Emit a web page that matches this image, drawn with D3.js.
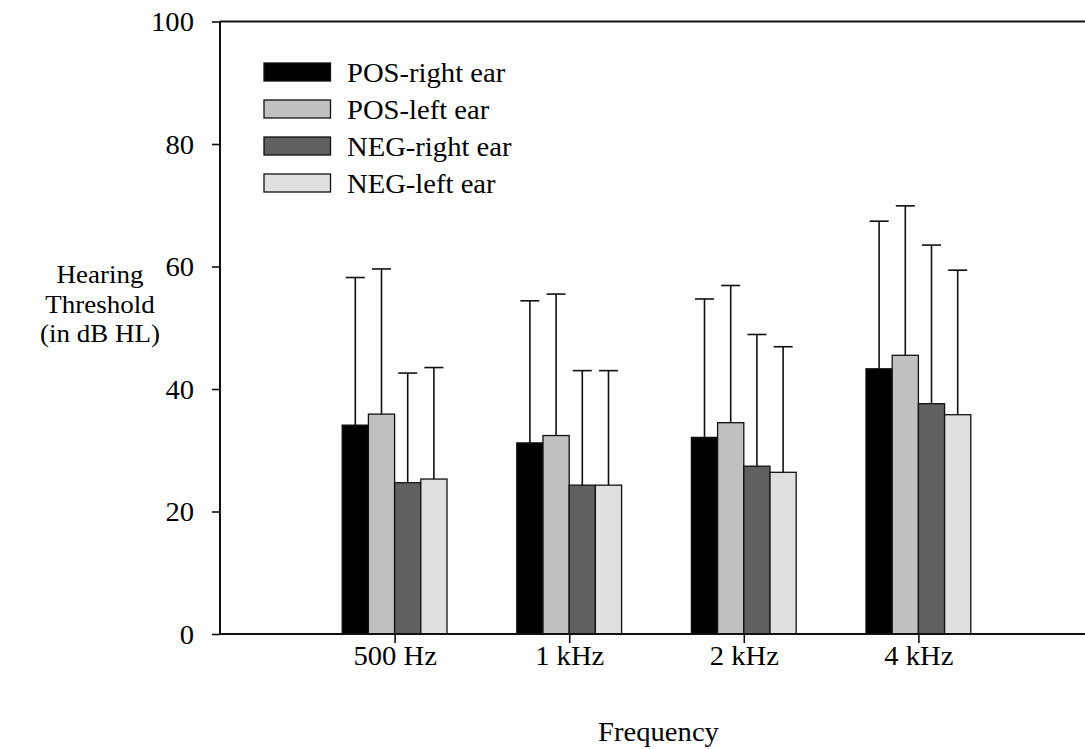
<!DOCTYPE html>
<html>
<head>
<meta charset="utf-8">
<script src="https://cdn.jsdelivr.net/npm/d3@7"></script>
<style>
  html, body { margin: 0; padding: 0; background: #fff; }
  svg { display: block; font-family: "Liberation Serif", "Times New Roman", serif; }
</style>
</head>
<body>
<svg id="chart" width="1085" height="749"></svg>
<script>
// Frequencies tested
const categories = ["500 Hz", "1 kHz", "2 kHz", "4 kHz"];
const seriesNames = ["POS-right ear", "POS-left ear", "NEG-right ear", "NEG-left ear"];
const seriesColors = ["#000000", "#c0c0c0", "#606060", "#e0e0e0"];

// Mean hearing threshold (dB HL) per group and ear
const posRightMean = [34.1, 31.2, 32.1, 43.3];
const posLeftMean  = [35.9, 32.4, 34.5, 45.5];
const negRightMean = [24.7, 24.3, 27.4, 37.6];
const negLeftMean  = [25.3, 24.3, 26.4, 35.8];

// Standard deviations (upper error bars)
const posRightSD = [24.1, 23.2, 22.6, 24.1];
const posLeftSD  = [23.7, 23.1, 22.4, 24.4];
const negRightSD = [17.9, 18.7, 21.5, 25.9];
const negLeftSD  = [18.2, 18.7, 20.5, 23.6];

const yTicks = [0, 20, 40, 60, 80, 100];

const means = [posRightMean, posLeftMean, negRightMean, negLeftMean];
const sds = [posRightSD, posLeftSD, negRightSD, negLeftSD];

const FONT = 26.5;   // text size
const SX = 1.08;     // slight horizontal widening of the serif type

const svg = d3.select("#chart");

const plotLeft = 220, plotTop = 21.5, plotBottom = 634;
const x = d3.scaleLinear().domain([0, categories.length + 1]).range([plotLeft, plotLeft + 174.6 * 5]);
const y = d3.scaleLinear().domain([0, 100]).range([plotBottom, plotTop]);

const barW = 26.2;
const inner = d3.scaleBand().domain(d3.range(seriesNames.length))
  .range([-barW * 2, barW * 2]).padding(0);

// places a text label at (tx, ty) with the widened type
function label(parent, tx, ty, str, anchor, size) {
  return parent.append("text")
    .attr("transform", `translate(${tx},${ty}) scale(${SX},1)`)
    .attr("text-anchor", anchor || "start")
    .attr("font-size", size || FONT).attr("fill", "#000")
    .text(str);
}

// Bars
const flat = [];
means.forEach((arr, s) => arr.forEach((v, c) => flat.push({ s, c, v, sd: sds[s][c] })));

const bars = svg.append("g");
bars.selectAll("rect").data(flat).join("rect")
  .attr("x", d => x(d.c + 1) + inner(d.s))
  .attr("y", d => y(d.v))
  .attr("width", inner.bandwidth())
  .attr("height", d => y(0) - y(d.v))
  .attr("fill", d => seriesColors[d.s])
  .attr("stroke", "#111")
  .attr("stroke-width", 1.3);

// Upper error bars
const err = svg.append("g").attr("stroke", "#111").attr("stroke-width", 1.6);
const cx = d => x(d.c + 1) + inner(d.s) + inner.bandwidth() / 2;
err.selectAll("line.stem").data(flat).join("line").attr("class", "stem")
  .attr("x1", cx).attr("x2", cx)
  .attr("y1", d => y(d.v))
  .attr("y2", d => y(d.v + d.sd));
err.selectAll("line.cap").data(flat).join("line").attr("class", "cap")
  .attr("x1", d => cx(d) - 9.5)
  .attr("x2", d => cx(d) + 9.5)
  .attr("y1", d => y(d.v + d.sd))
  .attr("y2", d => y(d.v + d.sd));

// Axes
const yAxis = d3.axisLeft(y).tickValues(yTicks).tickSize(8).tickFormat(d3.format("d"));
const gy = svg.append("g").attr("transform", `translate(${plotLeft},0)`).call(yAxis);
gy.select(".domain").attr("d", `M0,${y(0)}V${y(100)}`).attr("stroke", "#111").attr("stroke-width", 2);
gy.selectAll(".tick line").attr("stroke", "#111").attr("stroke-width", 1.6);
gy.selectAll(".tick text")
  .attr("x", 0).attr("dy", "0.34em")
  .attr("transform", `translate(-26,0) scale(${SX},1)`)
  .attr("font-size", FONT).attr("font-family", "Liberation Serif").attr("fill", "#000");

const xAxis = d3.axisBottom(x).tickValues(d3.range(1, categories.length + 1))
  .tickSize(9).tickPadding(3).tickFormat(d => categories[d - 1]);
const gx = svg.append("g").attr("transform", `translate(0,${plotBottom})`).call(xAxis);
gx.select(".domain").attr("d", `M${x(0)},0H${x(5)}`).attr("stroke", "#111").attr("stroke-width", 2);
gx.selectAll(".tick line").attr("stroke", "#111").attr("stroke-width", 1.6);
gx.selectAll(".tick text")
  .attr("transform", `scale(${SX},1)`)
  .attr("font-size", FONT).attr("font-family", "Liberation Serif").attr("fill", "#000");

// Top frame line
svg.append("line")
  .attr("x1", x(0)).attr("x2", x(5))
  .attr("y1", y(100)).attr("y2", y(100))
  .attr("stroke", "#111").attr("stroke-width", 2);

// Axis titles
["Hearing", "Threshold", "(in dB HL)"].forEach((t, i) => {
  label(svg, 100, 283 + i * 29.5, t, "middle", 25);
});
label(svg, x(2.5) + 2, 741, "Frequency", "middle");

// Legend
const legend = svg.append("g");
seriesNames.forEach((name, i) => {
  const ly = 72 + i * 37;
  legend.append("rect")
    .attr("x", 264).attr("y", ly - 9)
    .attr("width", 66.5).attr("height", 18)
    .attr("fill", seriesColors[i]).attr("stroke", "#111").attr("stroke-width", 1.3);
  label(legend, 347, ly + 9.5, name);
});
</script>
</body>
</html>
